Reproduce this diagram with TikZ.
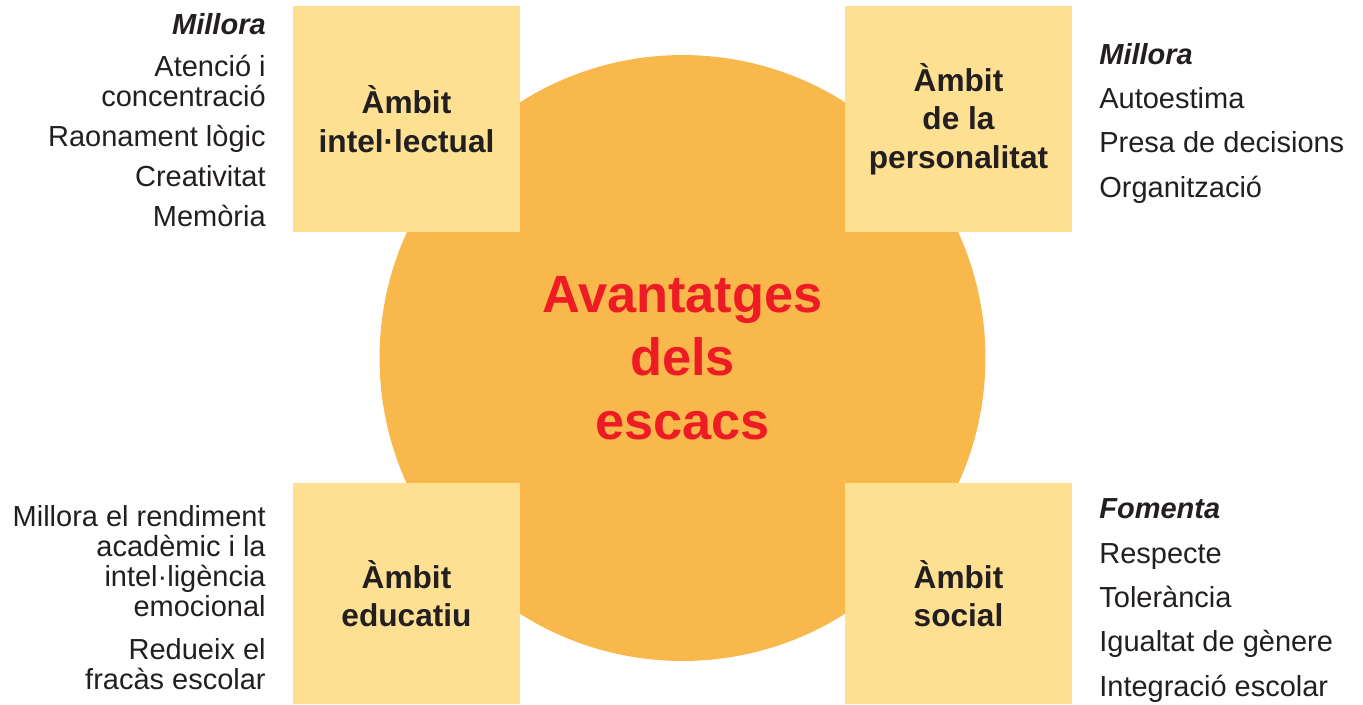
\documentclass[tikz,border=0pt]{standalone}
\usepackage{fontspec}
\setmainfont{Liberation Sans}
\definecolor{taronja}{HTML}{F9B84C}
\definecolor{groc}{HTML}{FDE092}
\definecolor{vermell}{HTML}{ED1C24}
\definecolor{negre}{HTML}{231F20}

\begin{document}
\begin{tikzpicture}[
        x=0.02cm, y=-0.02cm,
        centre/.style={shape=circle, fill=taronja, inner sep=0pt, minimum size=12.12cm, align=center, text=vermell, font=\fontsize{29.8pt}{36pt}\selectfont\bfseries},
        ambit/.style={shape=rectangle, fill=groc, inner sep=0pt, minimum width=4.54cm, align=center, text=negre, font=\fontsize{18pt}{21.8pt}\selectfont\bfseries},
        llista/.style={inner sep=0pt, text=negre, font=\fontsize{16.5pt}{17pt}\selectfont}
    ]
    \useasboundingbox (0,0) rectangle (1363,704);

    \node[centre] (avantatges) at (682.5,358) {Avantatges\\dels\\escacs};

    \node[ambit, minimum height=4.52cm] (intel) at (406.5,119) {Àmbit\\intel·lectual};
    \node[ambit, minimum height=4.52cm] (perso) at (958.5,119) {Àmbit\\de la\\personalitat};
    \node[ambit, minimum height=4.42cm] (educ) at (406.5,593.5) {Àmbit\\educatiu};
    \node[ambit, minimum height=4.42cm] (social) at (958.5,593.5) {Àmbit\\social};

    \node[llista, align=right, anchor=base east] (intel-llista) at (266,226)
        {\textbf{\textit{Millora}}\\[6.8pt] Atenció i\\concentració\\[5.7pt] Raonament lògic\\[5.7pt] Creativitat\\[5.7pt] Memòria};
    \node[llista, align=left, anchor=base west] (perso-llista) at (1099,197)
        {\textbf{\textit{Millora}}\\[8.2pt] Autoestima\\[8.2pt] Presa de decisions\\[8.2pt] Organització};
    \node[llista, align=right, anchor=base east] (educ-llista) at (266,689)
        {Millora el rendiment\\acadèmic i la\\intel·ligència\\emocional\\[7.4pt] Redueix el\\fracàs escolar};
    \node[llista, align=left, anchor=base west] (social-llista) at (1099,696)
        {\textbf{\textit{Fomenta}}\\[8.2pt] Respecte\\[8.2pt] Tolerància\\[8.2pt] Igualtat de gènere\\[8.2pt] Integració escolar};

\end{tikzpicture}
\end{document}
